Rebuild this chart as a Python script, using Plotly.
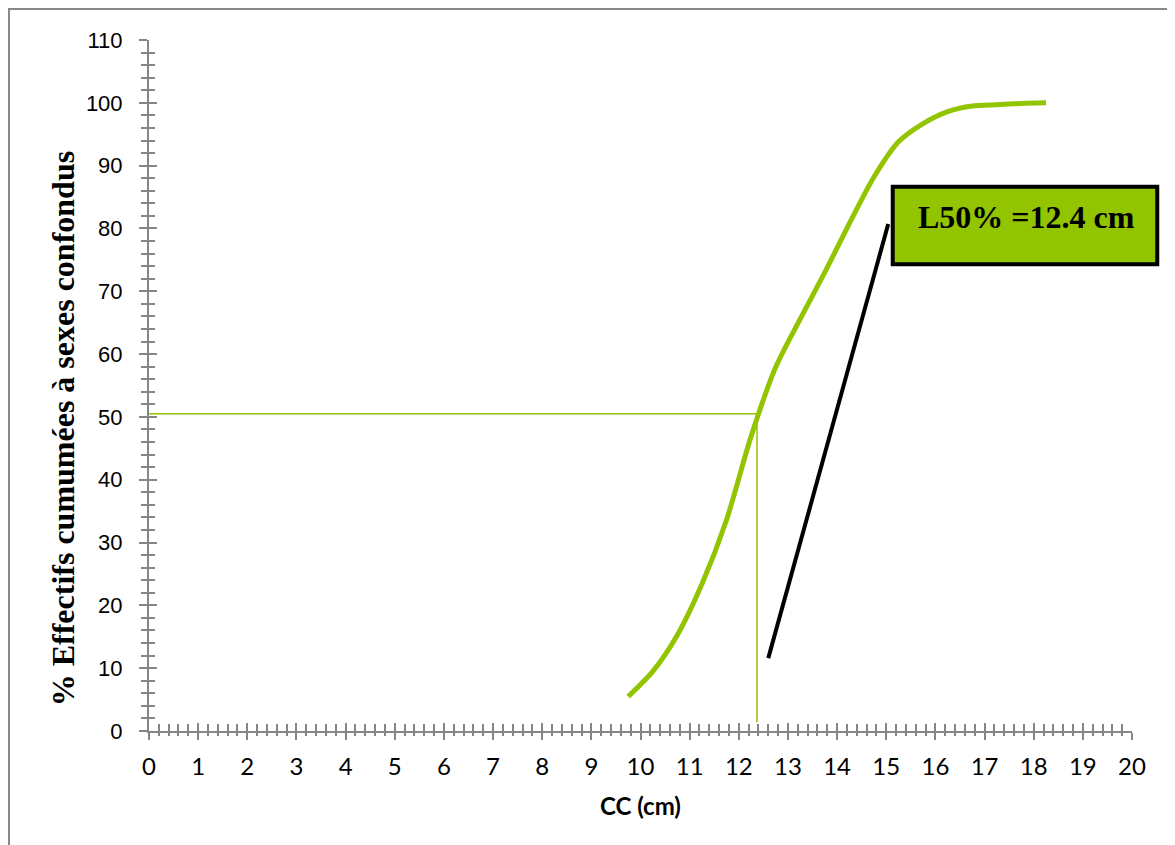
import plotly.graph_objects as go

# Data: cumulative % by size class (CC, cm)
cc_cm = [9.75, 10.25, 10.75, 11.25, 11.75, 12.25, 12.75, 13.25, 13.75, 14.25,
         14.75, 15.25, 15.75, 16.25, 16.75, 17.25, 17.75, 18.25]
cum_pct = [5.5, 9.5, 15.3, 23.4, 33.6, 46.9, 57.9, 65.6, 73.0, 80.8,
           88.2, 93.8, 96.7, 98.6, 99.5, 99.7, 99.9, 100.0]

L50 = 12.37
ref_pct = 50.5
ref_bottom = 1.4
label_text = "L50% =12.4 cm"
pointer_x = [12.6, 15.04]
pointer_y = [11.6, 80.7]

green = "#92C400"
axis_gray = "#868686"

fig = go.Figure()

fig.add_trace(go.Scatter(
    x=[0, L50, L50], y=[ref_pct, ref_pct, ref_bottom], mode="lines",
    line=dict(color=green, width=1.5), hoverinfo="skip", showlegend=False))

fig.add_trace(go.Scatter(
    x=cc_cm, y=cum_pct, mode="lines", line=dict(color=green, width=5, shape="spline", smoothing=0.8),
    showlegend=False))

fig.add_trace(go.Scatter(
    x=pointer_x, y=pointer_y, mode="lines", line=dict(color="black", width=4),
    hoverinfo="skip", showlegend=False))

# dummy trace for overlay axes (inside ticks to produce crossing ticks)
fig.add_trace(go.Scatter(x=[None], y=[None], xaxis="x2", yaxis="y2", showlegend=False, hoverinfo="skip"))

# Box (paper coords so it is not clipped by the plot area)
fig.add_shape(type="rect", xref="paper", yref="paper", x0=0.7566, x1=1.0257, y0=0.6755, y1=0.7877,
              fillcolor=green, line=dict(color="black", width=4), layer="above")
fig.add_annotation(x=15.6, y=81.8, xref="x", yref="y", text="<b>" + label_text + "</b>",
                   showarrow=False, xanchor="left", yanchor="middle",
                   font=dict(family="Liberation Serif", size=32, color="black"))

# Outer frame
fig.add_shape(type="rect", xref="paper", yref="paper", x0=-0.1424, x1=1.0376, y0=-0.2, y1=1.0449,
              line=dict(color="#888888", width=2), fillcolor="rgba(0,0,0,0)", layer="below")

fig.add_annotation(x=-0.0875, y=0.438, xref="paper", yref="paper", textangle=-90,
                   xanchor="center", yanchor="middle",
                   text="<b>% Effectifs cumumées à sexes confondus</b>", showarrow=False,
                   font=dict(family="Liberation Serif", size=32, color="black"))
fig.add_annotation(x=0.5, y=-0.1085, xref="paper", yref="paper", text="<b>CC (cm)</b>",
                   xanchor="center", yanchor="middle",
                   showarrow=False, font=dict(family="Lato", size=24, color="black"))

fig.update_layout(
    width=1167, height=837, margin=dict(l=141, r=43, t=32, b=114),
    paper_bgcolor="white", plot_bgcolor="white",
    xaxis=dict(range=[0, 20], dtick=1, tick0=0, showgrid=False, zeroline=False,
               showline=True, linecolor=axis_gray, linewidth=2,
               ticks="outside", ticklen=7, tickwidth=2, tickcolor=axis_gray,
               minor=dict(dtick=0.2, ticks="outside", ticklen=3, tickwidth=1.5, tickcolor=axis_gray, showgrid=False),
               tickfont=dict(family="Lato", size=24, color="black"), ticklabelstandoff=6),
    yaxis=dict(range=[0, 110], dtick=10, tick0=0, showgrid=False, zeroline=False,
               showline=True, linecolor=axis_gray, linewidth=2,
               ticks="outside", ticklen=8, tickwidth=2, tickcolor=axis_gray,
               minor=dict(dtick=2, ticks="outside", ticklen=6, tickwidth=1.5, tickcolor=axis_gray, showgrid=False),
               tickfont=dict(family="Liberation Sans", size=22, color="black"), ticklabelstandoff=12),
    xaxis2=dict(range=[0, 20], overlaying="x", anchor="y2", dtick=1, tick0=0, showgrid=False, zeroline=False,
                showline=False, showticklabels=False,
                ticks="inside", ticklen=8, tickwidth=2, tickcolor=axis_gray,
                minor=dict(dtick=0.2, ticks="inside", ticklen=7, tickwidth=1.5, tickcolor=axis_gray, showgrid=False)),
    yaxis2=dict(range=[0, 110], overlaying="y", anchor="x2", dtick=10, tick0=0, showgrid=False, zeroline=False,
                showline=False, showticklabels=False,
                ticks="inside", ticklen=8, tickwidth=2, tickcolor=axis_gray,
                minor=dict(dtick=2, ticks="inside", ticklen=6, tickwidth=1.5, tickcolor=axis_gray, showgrid=False)),
)

fig.write_html("out.html")
